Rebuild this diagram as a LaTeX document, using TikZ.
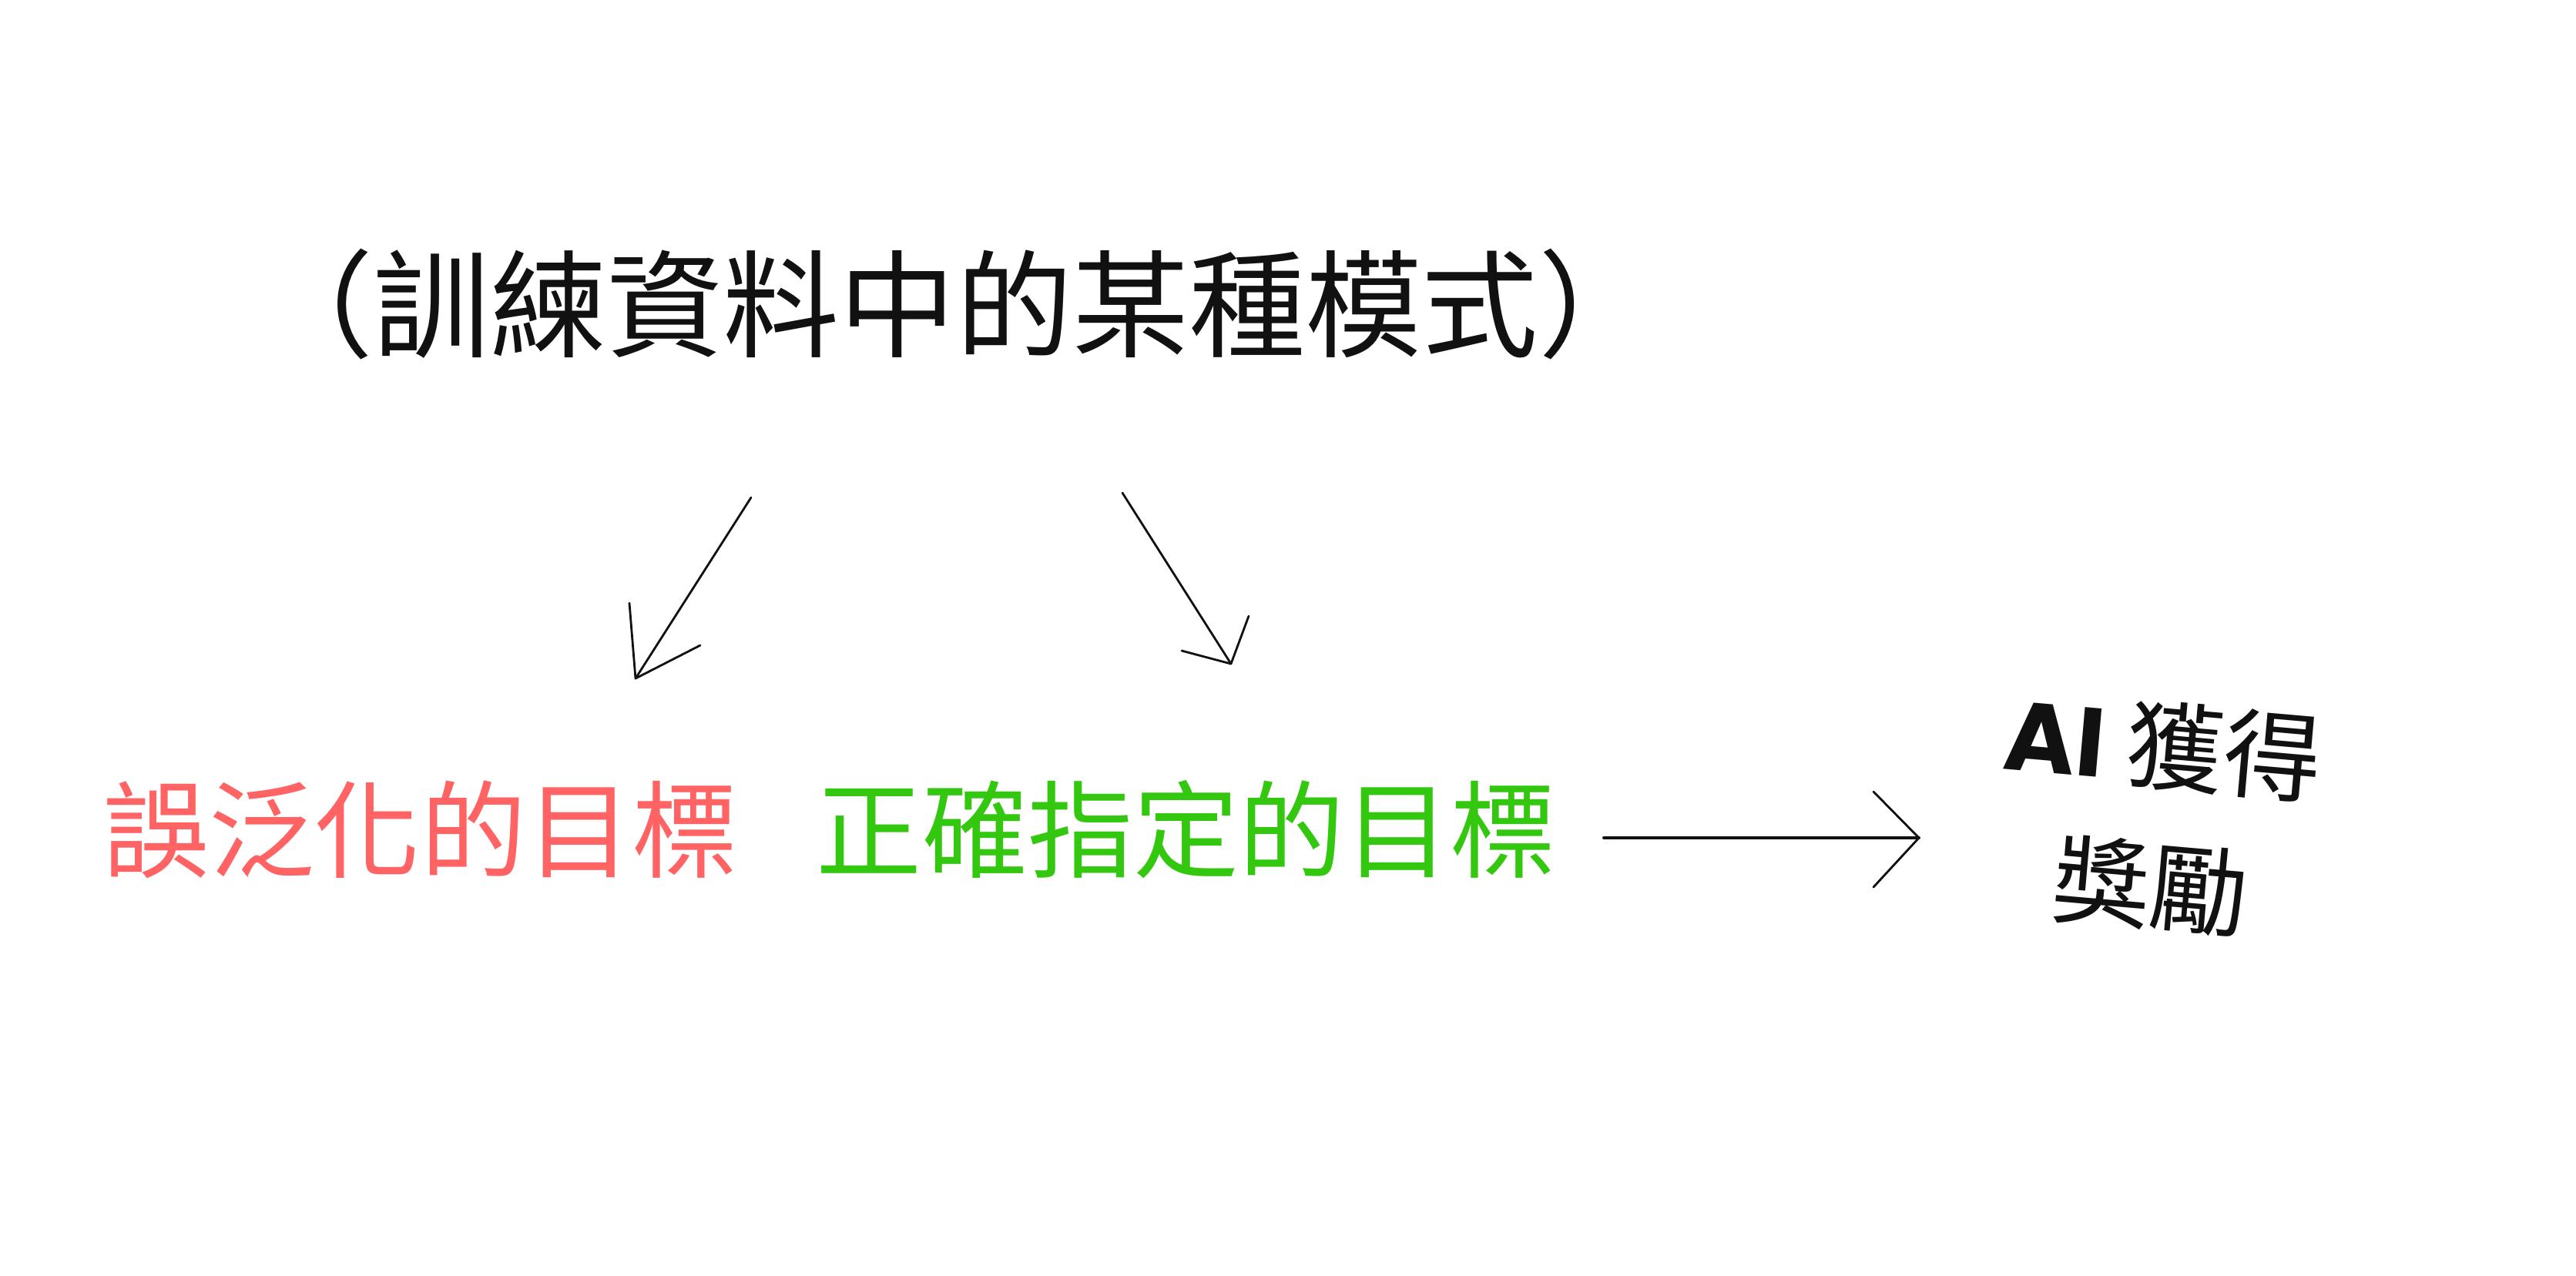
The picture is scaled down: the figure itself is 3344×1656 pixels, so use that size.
\documentclass[tikz,border=0pt]{standalone}
\usepackage{fontspec}
\setmainfont{Noto Sans CJK TC}
\newfontfamily\cjk{Noto Sans CJK TC}
\newfontfamily\aifont{Poppins}
\definecolor{wrongred}{HTML}{FF6363}
\definecolor{rightgreen}{HTML}{33C70F}
\definecolor{inkblack}{HTML}{111111}
\tikzset{
  bigtext/.style={font=\cjk\fontsize{39pt}{47pt}\selectfont, inner sep=0pt},
  smalltext/.style={font=\cjk\fontsize{36pt}{52pt}\selectfont, inner sep=0pt, text=inkblack, align=center, rotate=-5},
  sketchline/.style={line width=0.8pt, line cap=round, line join=round, draw=inkblack}
}
\begin{document}
\begin{tikzpicture}[x=0.01cm, y=-0.01cm]
        % Canvas
        \useasboundingbox (0,0) rectangle (3344,1656);

        % Title
        \node[bigtext, text=inkblack, font=\cjk\fontsize{43pt}{52pt}\selectfont] (pattern) at (1241,395) {（訓練資料中的某種模式）};

        % The two goals
        \node[bigtext, text=wrongred] (wrong) at (546,1077) {誤泛化的目標};
        \node[bigtext, text=rightgreen] (right) at (1540,1077) {正確指定的目標};

        % Reward
        \node[smalltext] (reward) at (2800,1060) {{\aifont\bfseries AI} 獲得\\獎勵};

        % Arrow ends
        \coordinate (a1s) at (975,646);
        \coordinate (a1t) at (825,881);
        \coordinate (a1l) at (817,783);
        \coordinate (a1r) at (909,838);
        \coordinate (a2s) at (1457,640);
        \coordinate (a2t) at (1598,862);
        \coordinate (a2l) at (1534,845);
        \coordinate (a2r) at (1621,800);
        \coordinate (a3s) at (2082,1088);
        \coordinate (a3t) at (2491,1088);
        \coordinate (a3l) at (2432,1028);
        \coordinate (a3r) at (2432,1152);

        % Arrows drawn by hand
        \draw[sketchline] (a1s) -- (a1t);
        \draw[sketchline] (a1l) -- (a1t) -- (a1r);
        \draw[sketchline] (a2s) -- (a2t);
        \draw[sketchline] (a2l) -- (a2t) -- (a2r);
        \draw[sketchline, line width=1.1pt] (a3s) -- (a3t);
        \draw[sketchline] (a3l) -- (a3t) -- (a3r);
    \end{tikzpicture}
\end{document}
